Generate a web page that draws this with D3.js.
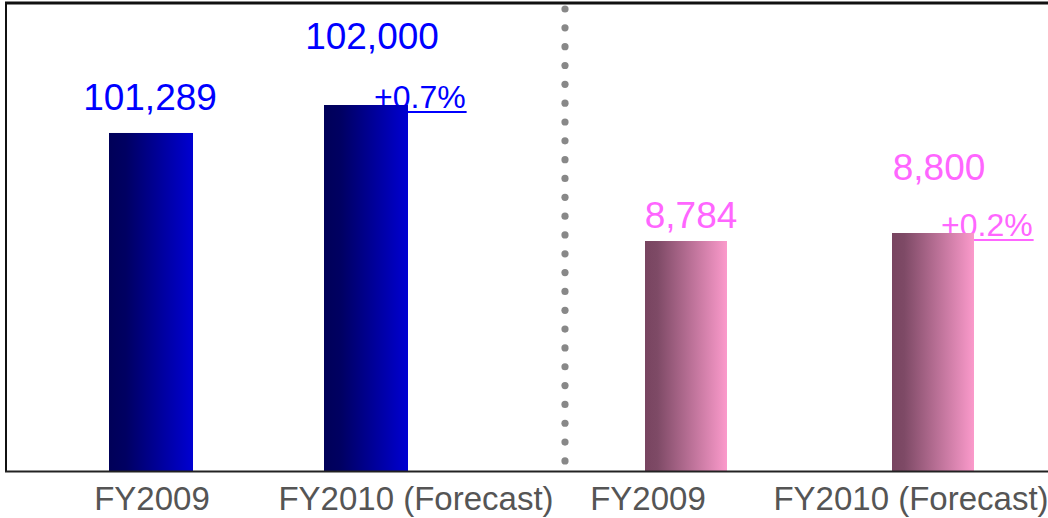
<!DOCTYPE html>
<html>
<head>
<meta charset="utf-8">
<script src="https://cdn.jsdelivr.net/npm/d3@7"></script>
<style>
    html, body { margin: 0; padding: 0; background: #fff; }
    svg { display: block; font-family: 'Liberation Sans', Arial, sans-serif; }
</style>
</head>
<body>
<div id="chart"></div>
<script>
// chart data
var categories = ['FY2009', 'FY2010 (Forecast)'];
var leftValues = [101289, 102000];
var rightValues = [8784, 8800];
var changeLabels = ['+0.7%', '+0.2%'];

var width = 1048;
var height = 518;
var baseline = 471;

var svg = d3.select('#chart').append('svg')
    .attr('width', width)
    .attr('height', height);

// gradients for the bars
var defs = svg.append('defs');
function addGradient(id, stops) {
    var g = defs.append('linearGradient')
        .attr('id', id)
        .attr('x1', '0%').attr('x2', '100%')
        .attr('y1', '0%').attr('y2', '0%');
    stops.forEach(function (s) {
        g.append('stop').attr('offset', s[0]).attr('stop-color', s[1]);
    });
}
addGradient('gradBlue', [['0%', '#000058'], ['20%', '#000062'], ['100%', '#0000d2']]);
addGradient('gradPink', [['0%', '#784460'], ['15%', '#7e4a66'], ['100%', '#fb9acb']]);

// panel definitions (each panel has its own value scale)
var panels = [
    {
        values: leftValues,
        x: d3.scalePoint().domain(categories).range([151, 366]),
        y: d3.scaleLinear().domain([92700, 102000]).range([baseline, 105]),
        barWidth: 84,
        fill: 'url(#gradBlue)',
        textColor: '#0000ff',
        labelGap: [23, 56],
        labelShift: [-1, 6],
        axisShift: [1, 50],
        change: changeLabels[0]
    },
    {
        values: rightValues,
        x: d3.scalePoint().domain(categories).range([686, 933]),
        y: d3.scaleLinear().domain([8324, 8800]).range([baseline, 233]),
        barWidth: 82,
        fill: 'url(#gradPink)',
        textColor: '#ff66ff',
        labelGap: [13, 53],
        labelShift: [5, 6],
        axisShift: [-38, -22],
        change: changeLabels[1]
    }
];

panels.forEach(function (p) {
    var rows = categories.map(function (c, i) {
        return { cat: c, value: p.values[i], i: i };
    });

    // percentage change next to the forecast bar (drawn under the bar)
    var last = rows[rows.length - 1];
    var pctX = p.x(last.cat) + 8;
    var pctY = p.y(last.value) + 3;
    var pct = svg.append('text')
        .attr('x', pctX)
        .attr('y', pctY)
        .attr('fill', p.textColor)
        .style('font-size', '32px')
        .text(p.change);
    var pctW = pct.node().getComputedTextLength();
    svg.append('line')
        .attr('x1', pctX)
        .attr('x2', pctX + pctW + 1)
        .attr('y1', pctY + 4)
        .attr('y2', pctY + 4)
        .attr('stroke', p.textColor)
        .attr('stroke-width', 2);

    // bars
    svg.selectAll(null)
        .data(rows)
        .enter().append('rect')
        .attr('x', function (d) { return p.x(d.cat) - p.barWidth / 2; })
        .attr('y', function (d) { return p.y(d.value); })
        .attr('width', p.barWidth)
        .attr('height', function (d) { return baseline - p.y(d.value); })
        .attr('fill', p.fill);

    // value labels
    svg.selectAll(null)
        .data(rows)
        .enter().append('text')
        .attr('x', function (d) { return p.x(d.cat) + p.labelShift[d.i]; })
        .attr('y', function (d) { return p.y(d.value) - p.labelGap[d.i]; })
        .attr('text-anchor', 'middle')
        .attr('fill', p.textColor)
        .style('font-size', '37px')
        .text(function (d) { return d3.format(',')(d.value); });

    // category labels
    svg.selectAll(null)
        .data(rows)
        .enter().append('text')
        .attr('x', function (d) { return p.x(d.cat) + p.axisShift[d.i]; })
        .attr('y', 510)
        .attr('text-anchor', 'middle')
        .attr('fill', '#555555')
        .style('font-size', '33px')
        .text(function (d) { return d.cat; });
});

// dotted separator
svg.selectAll('.dot')
    .data(d3.range(25))
    .enter().append('circle')
    .attr('class', 'dot')
    .attr('cx', 565)
    .attr('cy', function (d) { return 9 + d * 18.83; })
    .attr('r', 3.6)
    .attr('fill', '#888888');

// frame
svg.append('line')
    .attr('x1', 5).attr('x2', width)
    .attr('y1', 3).attr('y2', 3)
    .attr('stroke', '#111').attr('stroke-width', 3);
svg.append('line')
    .attr('x1', 6).attr('x2', 6)
    .attr('y1', 2).attr('y2', baseline + 1)
    .attr('stroke', '#111').attr('stroke-width', 2);
svg.append('line')
    .attr('x1', 5).attr('x2', width)
    .attr('y1', baseline + 0.5).attr('y2', baseline + 0.5)
    .attr('stroke', '#222').attr('stroke-width', 2);
</script>
</body>
</html>
